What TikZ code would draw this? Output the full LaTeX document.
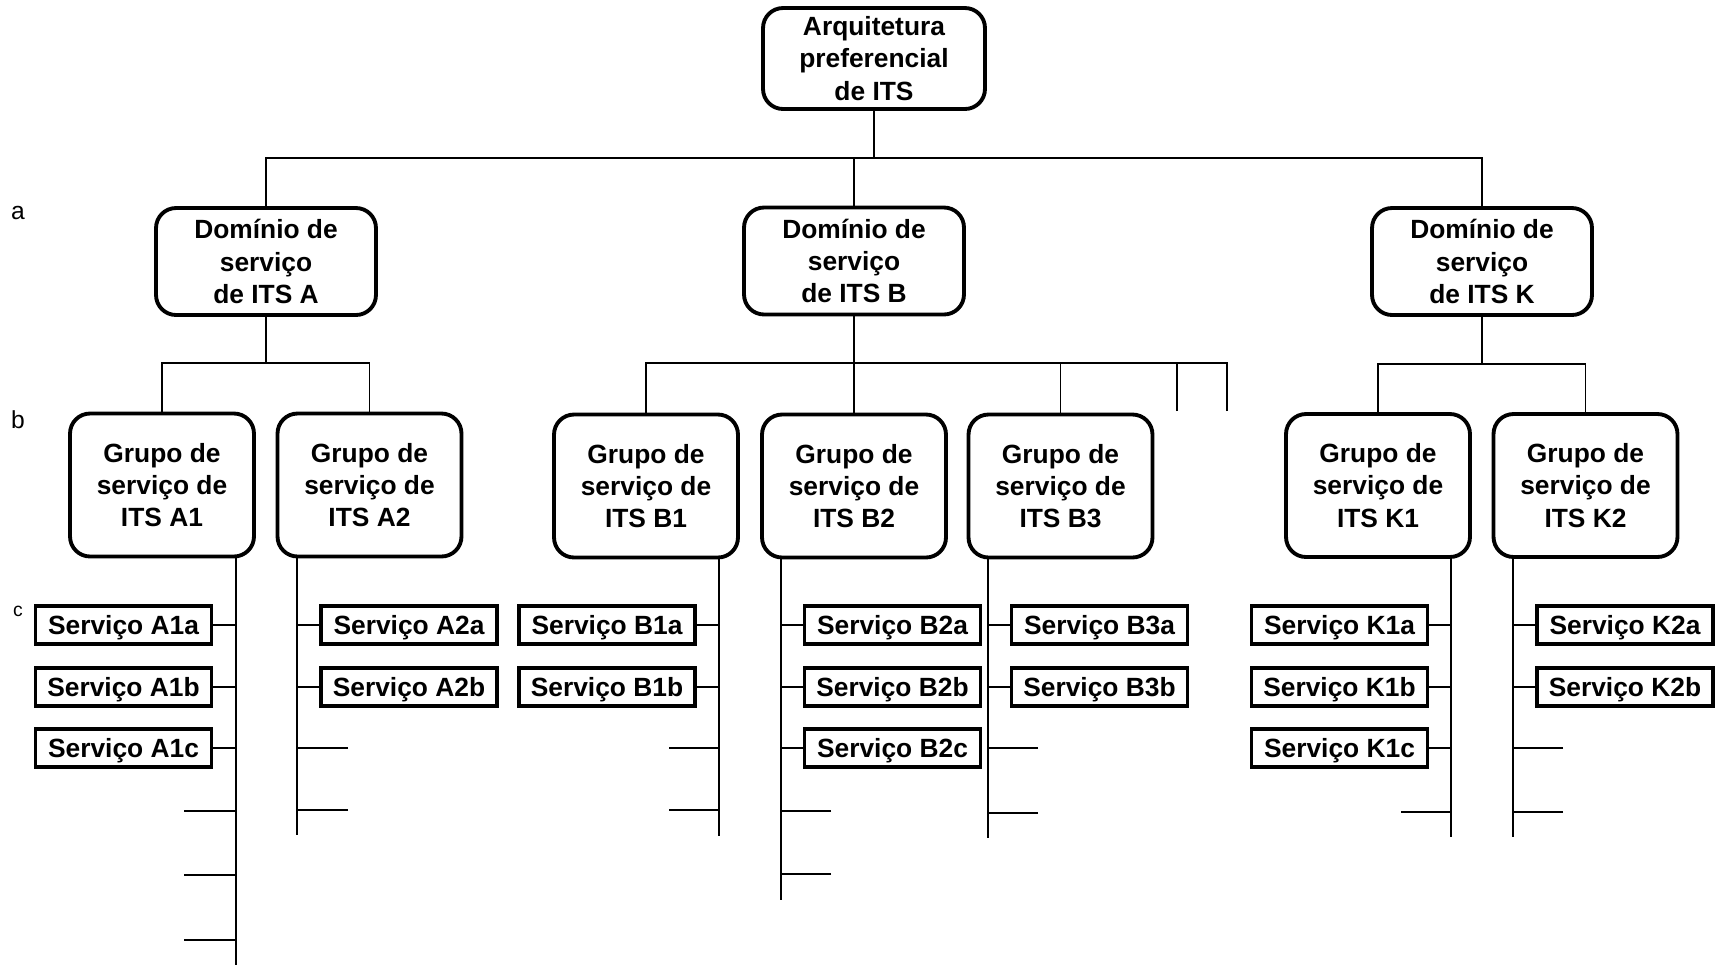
\documentclass[tikz,border=0pt]{standalone}
\usepackage{fontspec}
\setmainfont{Liberation Sans}
\tikzset{
  rootbox/.style={draw, line width=2.2pt, rounded corners=0.4cm, align=center,
    inner sep=0pt, minimum width=4.44cm, minimum height=2.02cm,
    font=\bfseries\fontsize{15}{18.4}\selectfont},
  dombox/.style={rootbox, minimum width=4.4cm, minimum height=2.14cm},
  grpbox/.style={rootbox, minimum width=3.68cm, minimum height=2.86cm},
  svcbox/.style={draw, line width=2pt, inner sep=0pt, minimum width=3.52cm,
    minimum height=0.76cm, text height=11pt, text depth=0pt,
    font=\bfseries\fontsize{15}{18}\selectfont},
  lvl/.style={anchor=center, font=\fontsize{14}{16}\selectfont},
  link/.style={line width=1.1pt}
}
\begin{document}
\begin{tikzpicture}[x=0.02cm, y=-0.02cm]
\useasboundingbox (0,0) rectangle (1717,965);
% levels
\node[lvl] (la) at (18,213) {a};
\node[lvl] (lb) at (18,420) {b};
\node[lvl, font=\fontsize{11}{13}\selectfont] (lc) at (18,611) {c};
% top
\node[rootbox] (root) at (874,58.5) {Arquitetura\\preferencial\\de ITS};
\node[dombox] (domA) at (266,261.5) {Domínio de\\serviço\\de ITS A};
\node[dombox] (domB) at (854,261) {Domínio de\\serviço\\de ITS B};
\node[dombox] (domK) at (1482,261.5) {Domínio de\\serviço\\de ITS K};
\coordinate (bus0) at (874,158);
\draw[link] (root.south) -- (root.south |- bus0);
\draw[link] (domA.north) -- (domA.north |- bus0) -- (domK.north |- bus0) -- (domK.north);
\draw[link] (domB.north) -- (domB.north |- bus0);
% groups
\node[grpbox] (grpA1) at (162,485) {Grupo de\\serviço de\\ITS A1};
\node[grpbox] (grpA2) at (369.5,485) {Grupo de\\serviço de\\ITS A2};
\node[grpbox] (grpB1) at (646,486) {Grupo de\\serviço de\\ITS B1};
\node[grpbox] (grpB2) at (854,486) {Grupo de\\serviço de\\ITS B2};
\node[grpbox] (grpB3) at (1060.5,486) {Grupo de\\serviço de\\ITS B3};
\node[grpbox] (grpK1) at (1378,485.5) {Grupo de\\serviço de\\ITS K1};
\node[grpbox] (grpK2) at (1585.5,485.5) {Grupo de\\serviço de\\ITS K2};
\coordinate (busA) at (266,363);
\coordinate (busB) at (854,363);
\coordinate (busK) at (1482,364);
\coordinate (stubB1) at (1177,411);
\coordinate (stubB2) at (1227,411);
\draw[link] (domA.south) -- (busA);
\draw[link] (grpA1.north) |- (busA);
\draw[link] (grpA2.north) |- (busA);
\draw[link] (domB.south) -- (grpB2.north);
\draw[link] (grpB1.north) |- (busB);
\draw[link] (grpB3.north) |- (busB);
\draw[link] (stubB1) |- (busB);
\draw[link] (stubB2) |- (busB);
\draw[link] (domK.south) -- (busK);
\draw[link] (grpK1.north) |- (busK);
\draw[link] (grpK2.north) |- (busK);
% services
\node[svcbox] (svcA1a) at (123.5,625) {Serviço A1a};
\node[svcbox] (svcA1b) at (123.5,687) {Serviço A1b};
\node[svcbox] (svcA1c) at (123.5,748) {Serviço A1c};
\node[svcbox] (svcA2a) at (409,625) {Serviço A2a};
\node[svcbox] (svcA2b) at (409,687) {Serviço A2b};
\node[svcbox] (svcB1a) at (607,625) {Serviço B1a};
\node[svcbox] (svcB1b) at (607,687) {Serviço B1b};
\node[svcbox] (svcB2a) at (892.5,625) {Serviço B2a};
\node[svcbox] (svcB2b) at (892.5,687) {Serviço B2b};
\node[svcbox] (svcB2c) at (892.5,748) {Serviço B2c};
\node[svcbox] (svcB3a) at (1099.5,625) {Serviço B3a};
\node[svcbox] (svcB3b) at (1099.5,687) {Serviço B3b};
\node[svcbox] (svcK1a) at (1339.5,625) {Serviço K1a};
\node[svcbox] (svcK1b) at (1339.5,687) {Serviço K1b};
\node[svcbox] (svcK1c) at (1339.5,748) {Serviço K1c};
\node[svcbox] (svcK2a) at (1625,625) {Serviço K2a};
\node[svcbox] (svcK2b) at (1625,687) {Serviço K2b};
% trunks
\coordinate (endA1) at (236,965);
\coordinate (endA2) at (297,835);
\coordinate (endB1) at (719,836);
\coordinate (endB2) at (781,900);
\coordinate (endB3) at (988,838);
\coordinate (endK1) at (1451,837);
\coordinate (endK2) at (1513,837);
\draw[link] (endA1 |- grpA1.south) -- (endA1);
\draw[link] (endA2 |- grpA2.south) -- (endA2);
\draw[link] (endB1 |- grpB1.south) -- (endB1);
\draw[link] (endB2 |- grpB2.south) -- (endB2);
\draw[link] (endB3 |- grpB3.south) -- (endB3);
\draw[link] (endK1 |- grpK1.south) -- (endK1);
\draw[link] (endK2 |- grpK2.south) -- (endK2);
\draw[link] (svcA1a.east) -- (svcA1a.east -| endA1);
\draw[link] (svcA1b.east) -- (svcA1b.east -| endA1);
\draw[link] (svcA1c.east) -- (svcA1c.east -| endA1);
\draw[link] (svcA2a.west) -- (svcA2a.west -| endA2);
\draw[link] (svcA2b.west) -- (svcA2b.west -| endA2);
\draw[link] (svcB1a.east) -- (svcB1a.east -| endB1);
\draw[link] (svcB1b.east) -- (svcB1b.east -| endB1);
\draw[link] (svcB2a.west) -- (svcB2a.west -| endB2);
\draw[link] (svcB2b.west) -- (svcB2b.west -| endB2);
\draw[link] (svcB2c.west) -- (svcB2c.west -| endB2);
\draw[link] (svcB3a.west) -- (svcB3a.west -| endB3);
\draw[link] (svcB3b.west) -- (svcB3b.west -| endB3);
\draw[link] (svcK1a.east) -- (svcK1a.east -| endK1);
\draw[link] (svcK1b.east) -- (svcK1b.east -| endK1);
\draw[link] (svcK1c.east) -- (svcK1c.east -| endK1);
\draw[link] (svcK2a.west) -- (svcK2a.west -| endK2);
\draw[link] (svcK2b.west) -- (svcK2b.west -| endK2);
% empty slots
\coordinate (tA1d) at (184,811);
\coordinate (tA1e) at (184,875);
\coordinate (tA1f) at (184,940);
\coordinate (tA2c) at (348,748);
\coordinate (tA2d) at (348,810);
\coordinate (tB1c) at (669,748);
\coordinate (tB1d) at (669,810);
\coordinate (tB2d) at (831,811);
\coordinate (tB2e) at (831,874);
\coordinate (tB3c) at (1038,748);
\coordinate (tB3d) at (1038,813);
\coordinate (tK1d) at (1401,812);
\coordinate (tK2c) at (1563,748);
\coordinate (tK2d) at (1563,812);
\draw[link] (tA1d) -- (tA1d -| endA1);
\draw[link] (tA1e) -- (tA1e -| endA1);
\draw[link] (tA1f) -- (tA1f -| endA1);
\draw[link] (tA2c) -- (tA2c -| endA2);
\draw[link] (tA2d) -- (tA2d -| endA2);
\draw[link] (tB1c) -- (tB1c -| endB1);
\draw[link] (tB1d) -- (tB1d -| endB1);
\draw[link] (tB2d) -- (tB2d -| endB2);
\draw[link] (tB2e) -- (tB2e -| endB2);
\draw[link] (tB3c) -- (tB3c -| endB3);
\draw[link] (tB3d) -- (tB3d -| endB3);
\draw[link] (tK1d) -- (tK1d -| endK1);
\draw[link] (tK2c) -- (tK2c -| endK2);
\draw[link] (tK2d) -- (tK2d -| endK2);
\end{tikzpicture}
\end{document}
